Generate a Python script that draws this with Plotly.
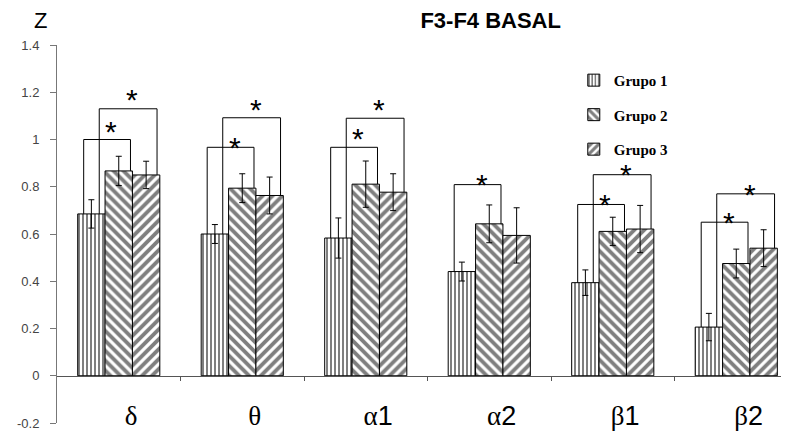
import plotly.graph_objects as go

# ---------------- data ----------------
categories = ["δ", "θ", "α1", "α2", "β1", "β2"]
groups = ["Grupo 1", "Grupo 2", "Grupo 3"]
grupo1 = [0.685, 0.600, 0.583, 0.441, 0.394, 0.206]
grupo2 = [0.867, 0.794, 0.811, 0.643, 0.611, 0.475]
grupo3 = [0.850, 0.763, 0.777, 0.594, 0.621, 0.540]
err1 = [0.060, 0.040, 0.085, 0.040, 0.054, 0.058]
err2 = [0.062, 0.061, 0.098, 0.080, 0.060, 0.061]
err3 = [0.058, 0.078, 0.078, 0.117, 0.100, 0.078]
# significance brackets: (category index, compared group index, bracket level)
bracket_cat = [0, 0, 1, 1, 2, 2, 3, 4, 4, 5, 5]
bracket_grp = [1, 2, 1, 2, 1, 2, 1, 1, 2, 1, 2]
bracket_lvl = [1.00, 1.13, 0.967, 1.092, 0.967, 1.09, 0.809, 0.725, 0.851, 0.65, 0.77]
y_ticks = [-0.2, 0, 0.2, 0.4, 0.6, 0.8, 1, 1.2, 1.4]
y_ticklabels = ["-0.2", "0", "0.2", "0.4", "0.6", "0.8", "1", "1.2", "1.4"]

# ---------------- style ----------------
values = [grupo1, grupo2, grupo3]
errors = [err1, err2, err3]
shapes_pat = ["|", "\\", "/"]
pat_size = [4, 7, 7]
pat_sol = [0.5, 0.55, 0.55]
star_lift = [14, 15, 6, 14, 15, 15, 6, 6, 6, 6, 5]
left_off = {1: -0.284, 2: -0.158}
right_off = {1: 0.095, 2: 0.31}
label_shift = 0.1

x = list(range(len(categories)))
fig = go.Figure()
for gi, name in enumerate(groups):
    fig.add_trace(go.Bar(
        x=x, y=values[gi], name=name, legendgroup=name,
        marker=dict(color="white", line=dict(color="black", width=1),
                    pattern=dict(shape=shapes_pat[gi], fgcolor="black", bgcolor="white",
                                 size=pat_size[gi], solidity=pat_sol[gi])),
        error_y=dict(type="data", array=errors[gi], symmetric=True,
                     color="black", thickness=1, width=3),
    ))

shapes = []
annotations = []
for k in range(len(bracket_cat)):
    c = bracket_cat[k]
    g = bracket_grp[k]
    lvl = bracket_lvl[k]
    xl = c + left_off[g]
    xr = c + right_off[g]
    y_left = values[0][c]
    y_right = values[g][c]
    shapes.append(dict(type="path", xref="x", yref="y",
                       path=f"M {xl},{y_left} L {xl},{lvl} L {xr},{lvl} L {xr},{y_right}",
                       line=dict(color="black", width=1)))
    annotations.append(dict(x=(xl + xr) / 2 + 0.035, y=lvl, xref="x", yref="y",
                            text="*", showarrow=False, yanchor="middle",
                            yshift=star_lift[k] - 6,
                            font=dict(family="Liberation Sans", size=30, color="black")))

annotations.append(dict(x=-0.023, y=1.066, xref="paper", yref="paper", text="Z", showarrow=False,
                        xanchor="center", yanchor="middle",
                        font=dict(family="Liberation Sans", size=22, color="black")))

ticktext = [f'<span style="font-family:Liberation Serif">{c[0]}</span>{c[1:]}' for c in categories]

fig.update_layout(
    width=781, height=426,
    margin=dict(l=49, r=0, t=37, b=11, autoexpand=False),
    paper_bgcolor="white", plot_bgcolor="white",
    barmode="group", bargap=0.335, bargroupgap=0,
    title=dict(text="<b>F3-F4 BASAL</b>", x=0.618, xanchor="center", y=0.972, yanchor="middle",
               font=dict(family="Liberation Sans", size=22, color="black")),
    showlegend=True,
    legend=dict(x=0.706, y=0.95, xanchor="left", yanchor="top", tracegroupgap=12,
                itemwidth=30, bgcolor="rgba(0,0,0,0)",
                font=dict(family="Liberation Serif", size=15, color="black", weight="bold")),
    shapes=shapes,
    annotations=annotations,
    xaxis=dict(range=[-0.5, 5.427], tickvals=[i + label_shift for i in x], ticktext=ticktext,
               ticks="", showline=True, linecolor="#555", linewidth=1,
               anchor="free", position=0.125, showgrid=False, zeroline=False,
               ticklabelstandoff=16, automargin=False,
               tickfont=dict(family="Liberation Sans", size=27, color="black"),
               minor=dict(tickvals=[i + 0.5 for i in x], ticks="outside", ticklen=4,
                          tickcolor="#555", showgrid=False)),
    yaxis=dict(range=[-0.2, 1.4], tickvals=y_ticks, ticktext=y_ticklabels,
               ticks="outside", ticklen=6, tickcolor="#777", showline=True,
               linecolor="#777", linewidth=1, showgrid=False, zeroline=False,
               ticklabelstandoff=8, automargin=False,
               tickfont=dict(family="Liberation Sans", size=13, color="#444")),
)

fig.write_html("out.html")
